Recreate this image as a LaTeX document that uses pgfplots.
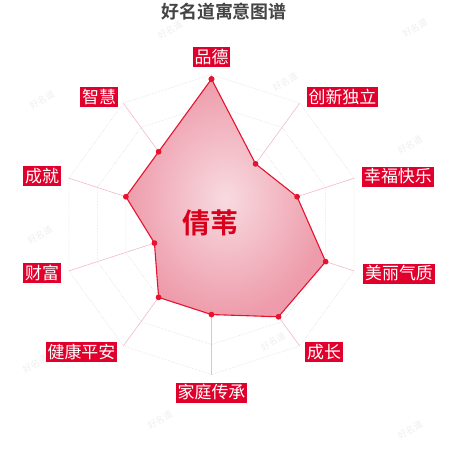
\documentclass[border=0pt]{standalone}
\usepackage{fontspec}
\setmainfont{Noto Sans CJK SC}[BoldFont={Noto Sans CJK SC Bold}]
\usepackage{pgfplots}
\usepackage{pgfplotstable}
\pgfplotsset{compat=1.18}

\definecolor{labred}{HTML}{E0002B}
\definecolor{linered}{HTML}{E5132F}
\definecolor{namered}{HTML}{D9001B}
\definecolor{spoke}{HTML}{F2BAC7}
\definecolor{titlegray}{HTML}{444444}

% angle (deg), score out of 100
\pgfplotstableread{
angle value
90   97
54   50
18   60
-18  80
-54  76
-90  60
-126 60
-162 40
162  60
126  60
90   97
}\scores

\begin{document}
\begin{tikzpicture}[
  lab/.style={fill=labred, text=white, font=\fontsize{17}{17}\selectfont,
    inner xsep=2bp, inner ysep=1.5bp, text height=14.5bp, text depth=2.5bp},
  wm/.style={text=gray!13, font=\fontsize{9}{9}\selectfont, rotate=30, inner sep=0pt},
]
\begin{axis}[
  width=450bp, height=450bp, scale only axis,
  xmin=-141, xmax=159, ymin=-150.3, ymax=149.7,
  hide axis, clip=false,
]
% watermarks
\node[wm] at (axis cs:-27.7,129.7) {好名道};
\node[wm] at (axis cs:135.7,131) {好名道};
\node[wm] at (axis cs:-113,83) {好名道};
\node[wm] at (axis cs:49,95) {好名道};
\node[wm] at (axis cs:132.3,53) {好名道};
\node[wm] at (axis cs:-114.3,-7) {好名道};
\node[wm] at (axis cs:-117.7,-93) {好名道};
\node[wm] at (axis cs:41,-78) {好名道};
\node[wm] at (axis cs:-34.3,-130.3) {好名道};
\node[wm] at (axis cs:132.3,-137) {好名道};

% grid rings
\pgfplotsinvokeforeach{20,40,60,80,100}{
  \addplot[data cs=polar, gray!30, densely dotted, line width=0.5bp]
    coordinates {(90,#1)(54,#1)(18,#1)(-18,#1)(-54,#1)(-90,#1)(-126,#1)(-162,#1)(162,#1)(126,#1)(90,#1)};
}
% spokes
\pgfplotsinvokeforeach{90,54,18,-18,-54,-90,-126,-162,162,126}{
  \addplot[data cs=polar, spoke, line width=0.6bp] coordinates {(#1,0)(#1,100)};
}

% filled area
\addplot[data cs=polar, draw=none, shading=radial,
  inner color={rgb,255:red,248;green,218;blue,224},
  outer color={rgb,255:red,238;green,156;blue,171}]
  table[x=angle, y=value] {\scores};
% outline and points
\addplot[data cs=polar, linered, line width=1.1bp, line join=round,
  mark=*, mark size=2.3bp, mark options={fill=linered, draw=linered}]
  table[x=angle, y=value] {\scores};

% labels
\node[lab] at (axis cs:0,111.67) {品德};
\node[lab] at (axis cs:87.33,85) {创新独立};
\node[lab] at (axis cs:124.33,32) {幸福快乐};
\node[lab] at (axis cs:125,-32.67) {美丽气质};
\node[lab] at (axis cs:75,-85) {成长};
\node[lab] at (axis cs:0,-112) {家庭传承};
\node[lab] at (axis cs:-86.67,-85) {健康平安};
\node[lab] at (axis cs:-113,-32.33) {财富};
\node[lab] at (axis cs:-113,32.33) {成就};
\node[lab] at (axis cs:-75,85) {智慧};

\node[text=namered, font=\fontsize{28}{28}\selectfont\bfseries] at (axis cs:-1,1) {倩苇};
\node[text=titlegray, font=\fontsize{18}{18}\selectfont\bfseries] at (axis cs:8.33,141.67) {好名道寓意图谱};
\end{axis}
\pgfresetboundingbox
\path[use as bounding box] (current axis.south west) rectangle (current axis.north east);
\end{tikzpicture}
\end{document}
